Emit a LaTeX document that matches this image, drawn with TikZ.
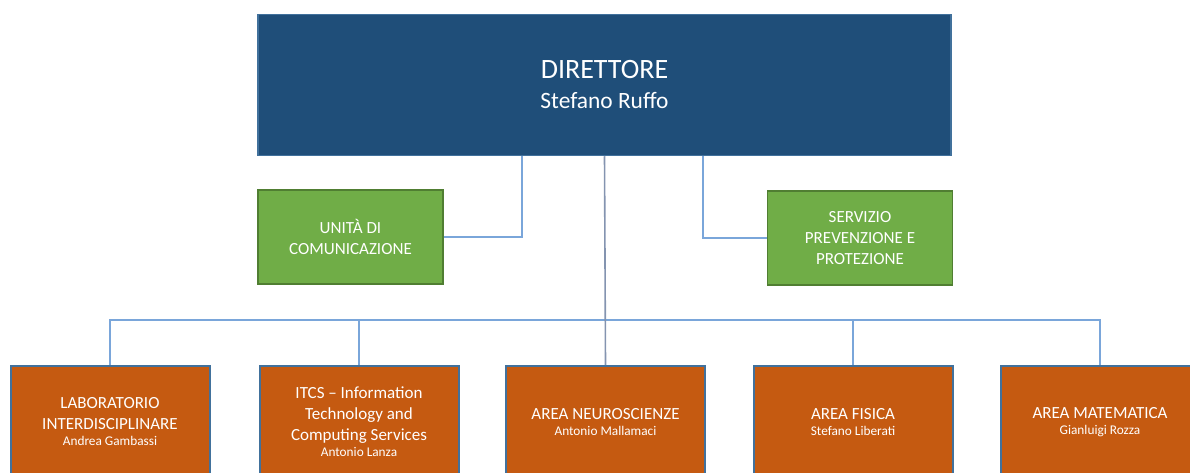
\documentclass[tikz,border=0pt]{standalone}
\usepackage{fontspec}
\setmainfont{Carlito}
\definecolor{dirfill}{HTML}{1F4E79}
\definecolor{dirline}{HTML}{41719C}
\definecolor{grfill}{HTML}{70AD47}
\definecolor{grline}{HTML}{507E32}
\definecolor{orfill}{HTML}{C55A11}
\definecolor{orline}{HTML}{41719C}
\definecolor{conn}{HTML}{7AA6DA}
\definecolor{connmid}{HTML}{8494B0}
\tikzset{
  dirbox/.style={draw=dirline, line width=1.5pt, fill=dirfill, text=white, minimum width=693pt, minimum height=141pt, align=center, inner sep=0pt, font=\fontsize{28}{30}\selectfont},
  grbox/.style={draw=grline, line width=1.5pt, fill=grfill, text=white, minimum width=185pt, minimum height=94pt, align=center, inner sep=0pt, font=\fontsize{17}{21}\selectfont},
  orbox/.style={draw=orline, line width=2pt, fill=orfill, text=white, minimum width=199pt, minimum height=112pt, align=center, inner sep=0pt, font=\fontsize{17}{21}\selectfont},
  wire/.style={draw=conn, line width=1.6pt},
  midwire/.style={draw=connmid, line width=1.6pt},
}
\newcommand{\nm}{\fontsize{13.3}{16}\selectfont}
\begin{document}
\begin{tikzpicture}[x=1pt,y=-1pt]
\useasboundingbox (0,0) rectangle (1190,473);
\clip (0,0) rectangle (1190,473);
% nodes
\node[dirbox] (dir) at (604.5,85) {DIRETTORE\\\fontsize{23.4}{30}\selectfont Stefano Ruffo};
\node[grbox] (com) at (350.5,237) {UNITÀ DI\\COMUNICAZIONE};
\node[grbox] (spp) at (860,238) {SERVIZIO\\PREVENZIONE E\\PROTEZIONE};
\node[orbox] (lab) at (110,422) {LABORATORIO\\INTERDISCIPLINARE\\[-5pt]\nm Andrea Gambassi};
\node[orbox] (itcs) at (359,422) {ITCS – Information\\Technology and\\Computing Services\\[-5pt]\nm Antonio Lanza};
\node[orbox] (neu) at (605.5,422) {AREA NEUROSCIENZE\\[-5pt]\nm Antonio Mallamaci};
\node[orbox] (fis) at (853,422) {AREA FISICA\\[-5pt]\nm Stefano Liberati};
\node[orbox] (mat) at (1100,422) {AREA MATEMATICA\\[-5pt]\nm Gianluigi Rozza};
% connectors
\coordinate (bar) at (605.5,320);
\draw[wire] (dir.south -| 522,0) |- (com.east);
\draw[wire] (dir.south -| 703,0) |- (spp.west);
\draw[wire] (lab.north) |- (bar) -| (mat.north);
\draw[wire] (itcs.north) -- (itcs.north |- bar);
\draw[wire] (fis.north) -- (fis.north |- bar);
\draw[midwire] (dir.south) -- (neu.north);
\end{tikzpicture}
\end{document}
